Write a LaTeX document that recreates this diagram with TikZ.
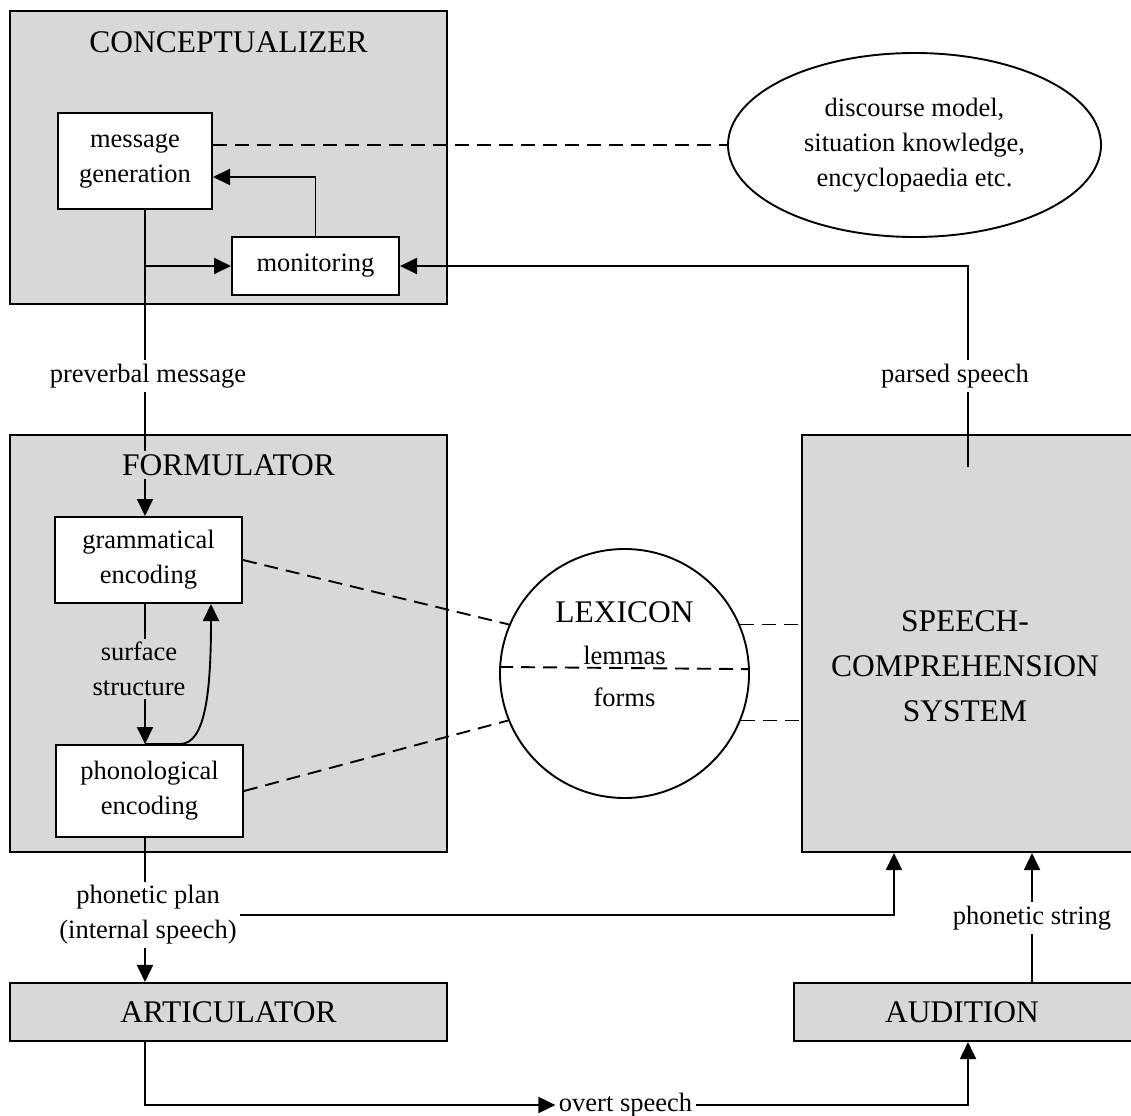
\documentclass[tikz,border=0pt]{standalone}
\usepackage{fontspec}
\setmainfont{Liberation Serif}
\usetikzlibrary{arrows.meta,calc,shapes.geometric}
\definecolor{boxgray}{RGB}{216,216,216}
\begin{document}
\begin{tikzpicture}[x=1pt,y=-1pt,
    big/.style={font=\fontsize{31.5}{45}\selectfont,align=center},
    small/.style={font=\fontsize{26.5}{35}\selectfont,align=center},
    unit/.style={draw,fill=boxgray,line width=2.1pt,inner sep=0pt},
    sub/.style={draw,fill=white,line width=2pt,inner sep=0pt,small},
    link/.style={line width=1.9pt},
    arr/.style={link,-{Triangle[length=17pt,width=16pt]}},
    lexlink/.style={link,dash pattern=on 14pt off 8pt}]
    \useasboundingbox (0,0) rectangle (1131,1115);
    \coordinate (spine) at (145,0);
    \coordinate (ret) at (968,0);
    \node[unit,minimum width=437pt,minimum height=293pt] (concept) at (228.5,157.5) {};
    \node[unit,minimum width=437pt,minimum height=417pt] (formul) at (228.5,643.5) {};
    \node[unit,minimum width=340pt,minimum height=417pt] (speech) at (972,643.5) {};
    \node[unit,minimum width=437pt,minimum height=58pt,big] (artic) at (228.5,1012) {ARTICULATOR};
    \node[unit,minimum width=350pt,minimum height=58pt] (aud) at (969,1012) {};
    \node[big] (audtext) at (962,1012) {AUDITION};
    \node[big] (concepttitle) at (228.5,42) {CONCEPTUALIZER};
    \node[big] (formultitle) at (228.5,465) {FORMULATOR};
    \node[big] (speechtitle) at (965,666) {SPEECH-\\COMPREHENSION\\SYSTEM};
    \node[sub,minimum width=154pt,minimum height=96pt] (msg) at (135,161) {message\\generation};
    \node[sub,minimum width=167pt,minimum height=58pt] (monitor) at (315.5,266) {monitoring};
    \node[sub,minimum width=187pt,minimum height=86pt] (gram) at (148.5,560) {grammatical\\encoding};
    \node[sub,minimum width=187pt,minimum height=92pt] (phon) at (149.5,791) {phonological\\encoding};
    \node[draw,ellipse,line width=1.9pt,minimum width=373pt,minimum height=184pt,inner sep=0pt,small] (disc) at (914.5,145) {discourse model,\\situation knowledge,\\encyclopaedia etc.};
    \node[draw,circle,line width=1.9pt,minimum size=249pt,inner sep=0pt] (lex) at (624.5,673.5) {};
    \node[big] (lextitle) at (624.5,612) {LEXICON};
    \node[small] (lemmas) at (624.5,655) {lemmas};
    \node[small] (forms) at (624.5,697) {forms};
    \node[small] (preverbal) at (148,376) {preverbal message};
    \node[small] (parsed) at (955,376) {parsed speech};
    \node[small] (surface) at (139,669) {surface\\structure};
    \node[small] (plan) at (148,915) {phonetic plan\\(internal speech)};
    \node[small] (string) at (1032,918) {phonetic string};
    \node[small] (overt) at (625.5,1105) {overt speech};
    \draw[link] (msg.south -| spine) -- (preverbal.north -| spine);
    \draw[arr] (monitor.west -| spine) -- (monitor.west);
    \draw[arr] (monitor.north) |- ($(msg.east)+(0,16)$);
    \draw[lexlink] (disc.west -| msg.east) -- (disc.west);
    \draw[arr] (parsed.north -| ret) |- (monitor.east);
    \draw[link] (parsed.south -| ret) -- ($(speech.north -| ret)+(0,33)$);
    \draw[link] (preverbal.south -| spine) -- (formultitle.north -| spine);
    \draw[arr] (formultitle.south -| spine) -- (gram.north -| spine);
    \draw[link] (gram.south -| spine) -- (surface.north -| spine);
    \draw[arr] (surface.south -| spine) -- (phon.north -| spine);
    \draw[arr] (phon.north -| spine) -- ++(35,0) .. controls ($(phon.north -| spine)+(60,0)$) and ($(gram.south)+(62.5,90)$) .. ($(gram.south)+(62.5,0)$);
    \draw[lexlink] (gram.east) -- (lex.157);
    \draw[lexlink] (phon.east) -- (lex.202);
    \draw[lexlink] (lex.23) -- (lex.23 -| speech.west);
    \draw[lexlink] (lex.-22) -- (lex.-22 -| speech.west);
    \draw[lexlink] (lex.177.5) -- (lex.2.5);
    \draw[link] (phon.south -| spine) -- (plan.north -| spine);
    \draw[arr] (plan.south -| spine) -- (artic.north -| spine);
    \draw[arr] (plan.east) -| ($(speech.south west)+(93,0)$);
    \draw[link] (aud.north -| string) -- (string.south);
    \draw[arr] (string.north) -- (string.north |- speech.south);
    \draw[arr] (artic.south -| spine) |- (overt.west);
    \draw[arr] (overt.east) -| (aud.south -| ret);
\end{tikzpicture}
\end{document}
